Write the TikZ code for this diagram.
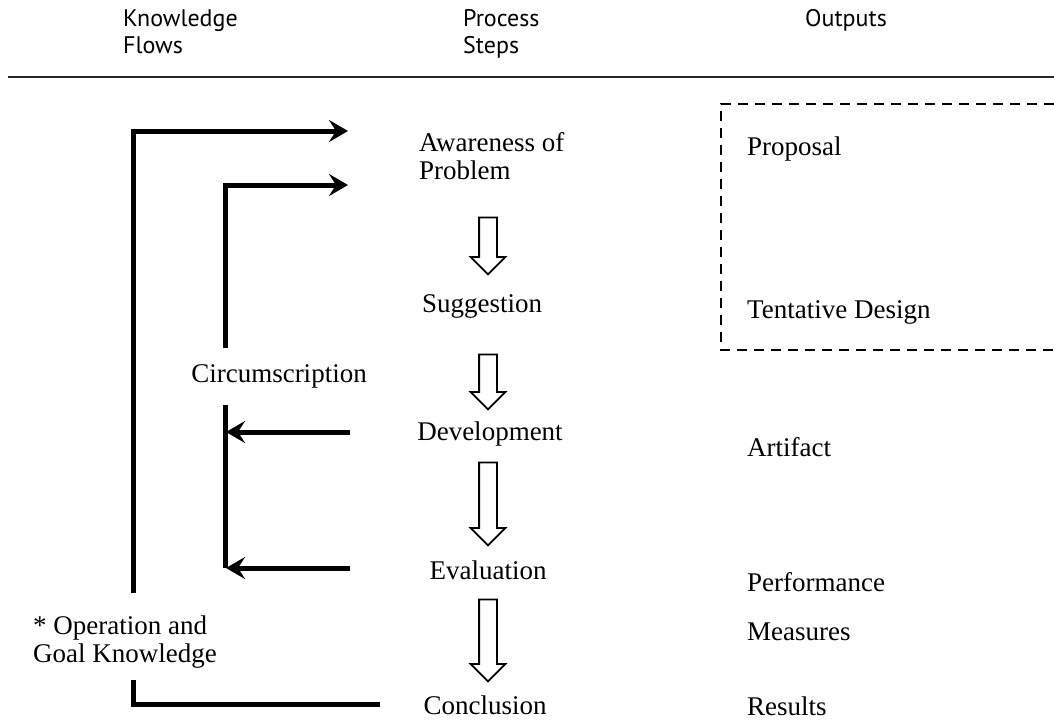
\documentclass[tikz,border=0pt]{standalone}
\usepackage{fontspec}
\setmainfont{Liberation Serif}
\newfontfamily\headfont{PT Sans}
\usetikzlibrary{arrows.meta,shapes.arrows}

\tikzset{
    headlabel/.style={anchor=north west, align=left, inner sep=0pt,
        font=\headfont\fontsize{24}{27}\selectfont},
    procstep/.style={inner sep=0pt, font=\fontsize{27}{28}\selectfont},
    outlabel/.style={anchor=west, inner sep=0pt, font=\fontsize{27}{28}\selectfont},
    flow/.style={line width=5pt},
    flowarrow/.style={flow, -{Stealth[length=19pt,width=22pt,inset=7pt]}},
    hollow/.style={single arrow, draw, line width=1.8pt, shape border rotate=270,
        minimum width=33pt, single arrow head extend=8.5pt,
        single arrow head indent=0pt, inner sep=8pt}
}

\begin{document}
\begin{tikzpicture}[x=1pt,y=-1pt]
    \useasboundingbox (0,0) rectangle (1054,721);

    % Column heads
    \node[headlabel] (hknow) at (123,9) {Knowledge\\Flows};
    \node[headlabel] (hproc) at (463,9) {Process\\Steps};
    \node[headlabel] (hout) at (805,9) {Outputs};
    \draw[line width=2.5pt,black!85] (8,77) -- (1054,77);

    % Process steps
    \node[procstep, anchor=west, align=left] (aware) at (419,156) {Awareness of\\Problem};
    \node[procstep] (sugg) at (482,306) {Suggestion};
    \node[procstep] (devel) at (490,434) {Development};
    \node[procstep] (evalu) at (488,570) {Evaluation};
    \node[procstep] (concl) at (485,705) {Conclusion};

    % Hollow arrows between the steps
    \node[hollow, minimum height=57pt] (a1) at (488,241.5) {};
    \node[hollow, minimum height=55pt] (a2) at (488,377.5) {};
    \node[hollow, minimum height=83pt] (a3) at (488,499.5) {};
    \node[hollow, minimum height=82pt] (a4) at (488,636) {};

    % Knowledge flows
    \coordinate (opstart) at (133,593);
    \coordinate (opend) at (348,131);
    \coordinate (cirstart) at (225,348);
    \coordinate (cirend) at (348,185);
    \coordinate (devfrom) at (350,432);
    \coordinate (devto) at (226,432);
    \coordinate (evafrom) at (350,568);
    \coordinate (evato) at (226,568);
    \coordinate (lowtop) at (225,405);
    \coordinate (lowbot) at (225,568);
    \coordinate (conctop) at (133,680);
    \coordinate (concend) at (380,704);

    \draw[flowarrow] (opstart) |- (opend);
    \draw[flowarrow] (cirstart) |- (cirend);
    \draw[flow] (lowtop) -- (lowbot);
    \draw[flowarrow] (devfrom) -- (devto);
    \draw[flowarrow] (evafrom) -- (evato);
    \draw[flow] (conctop) |- (concend);

    \node[procstep] (circ) at (279,376) {Circumscription};
    \node[outlabel, align=left] (opgoal) at (33,642) {* Operation and\\Goal Knowledge};

    % Outputs
    \draw[line width=2pt, dash pattern=on 10pt off 7pt]
        (1054,104) -- (721,104) -- (721,350) -- (1054,350);
    \node[outlabel] (prop) at (747,149) {Proposal};
    \node[outlabel] (tent) at (747,312) {Tentative Design};
    \node[outlabel] (arti) at (747,447) {Artifact};
    \node[outlabel] (perf) at (747,582) {Performance};
    \node[outlabel] (meas) at (747,632) {Measures};
    \node[outlabel] (resu) at (747,706) {Results};
\end{tikzpicture}
\end{document}
